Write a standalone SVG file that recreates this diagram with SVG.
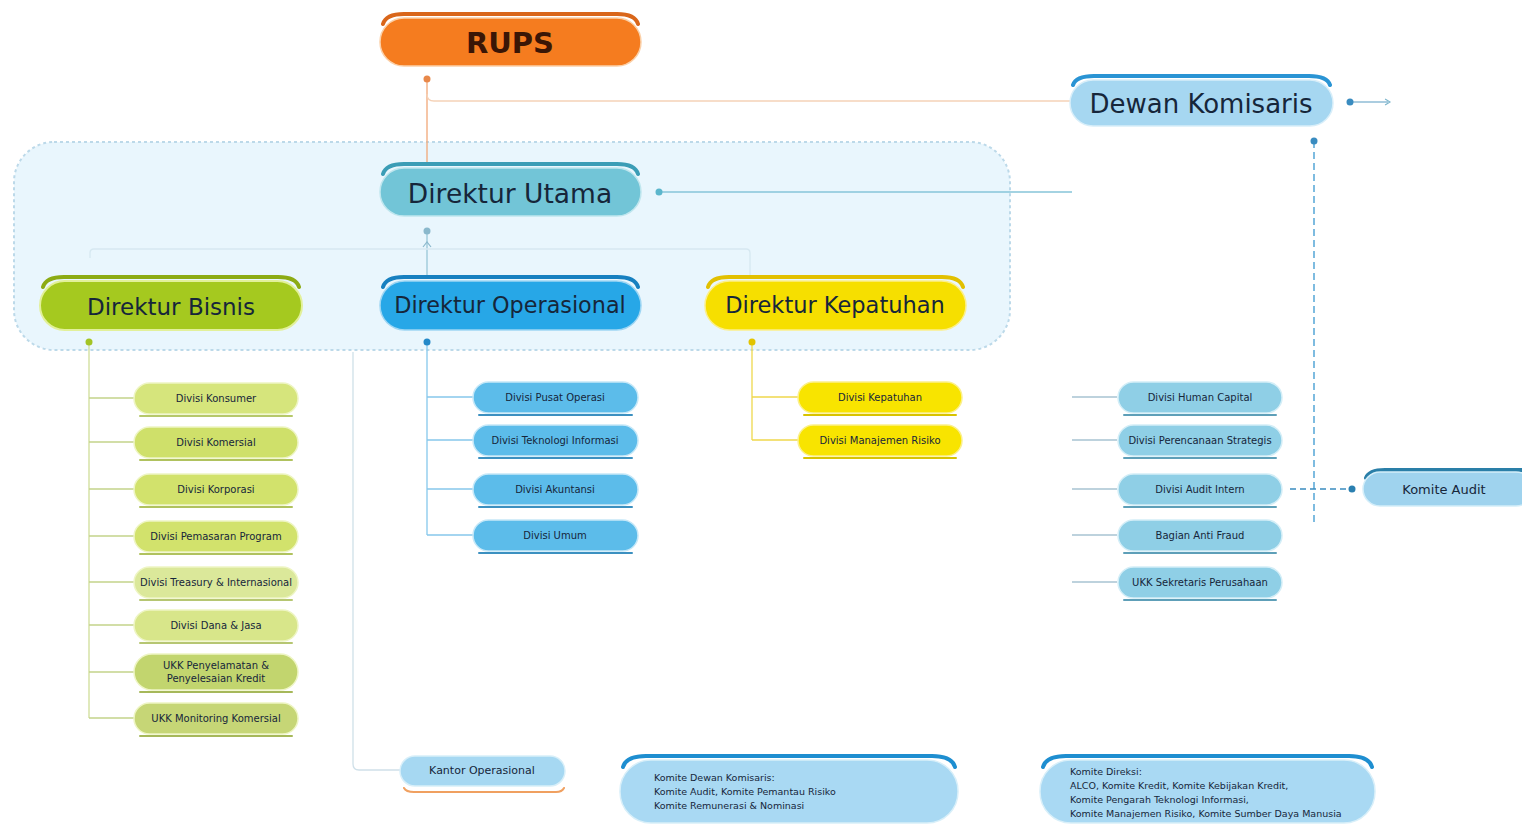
<svg xmlns="http://www.w3.org/2000/svg" width="1522" height="826" viewBox="0 0 1522 826">
<defs>
<style>
.t{font-family:"DejaVu Sans","Liberation Sans",sans-serif;fill:#16263a;text-anchor:middle;dominant-baseline:central}
.big{font-size:23px}
.sm{font-size:10px}
.xs{font-size:9.5px;text-anchor:start}
.cap{fill:none;stroke-width:4;stroke-linecap:round}
.ln{fill:none;stroke-width:1.3}
.shadow{fill:none;stroke-width:2;stroke-linecap:round}
</style>
<marker id="ah" viewBox="0 0 8 8" refX="4" refY="4" markerWidth="6" markerHeight="6" orient="auto"><path d="M1 1 L6 4 L1 7" fill="none" stroke="#7fb6cc" stroke-width="1.2"/></marker>
</defs>
<rect width="1522" height="826" fill="#ffffff"/>

<g id="group-direksi">
<rect x="14" y="142" width="996" height="208" rx="40" fill="#e9f6fd" stroke="#bcd9e9" stroke-width="2" stroke-dasharray="3 3"/>
</g>

<g id="connectors">
<line class="ln" x1="427" y1="79" x2="427" y2="166" stroke="#f2a878"/>
<path class="ln" d="M427 94 Q427 101 434 101 H1070" stroke="#f5d2b8"/>
<circle cx="427" cy="79" r="3.5" fill="#e8884a"/>
<path class="ln" d="M659 192 H1072" stroke="#86c5d8"/>
<circle cx="659" cy="192" r="3.5" fill="#5bb6cc"/>
<line class="ln" x1="427" y1="231" x2="427" y2="277" stroke="#98c6d8"/>
<circle cx="427" cy="231" r="3.5" fill="#8ab8cc"/>
<path d="M423 247 L427 242 L431 247" fill="none" stroke="#8ab8cc" stroke-width="1.2"/>
<path class="ln" d="M90 258 V253 Q90 249 94 249 H746 Q750 249 750 253 V277" stroke="#d6e8f1"/>
<path class="ln" d="M89 342 V718" stroke="#cfdd98"/>
<circle cx="89" cy="342" r="3.5" fill="#a3c425"/>
<path class="ln" stroke="#c4d48a" d="M89 398 H134 M89 442 H134 M89 489 H134 M89 536 H134 M89 582 H134 M89 625 H134 M89 672 H134 M89 718 H134"/>
<path class="ln" d="M427 342 V535" stroke="#86c8ec"/>
<circle cx="427" cy="342" r="3.5" fill="#2388c8"/>
<path class="ln" stroke="#86c8ec" d="M427 397 H473 M427 440 H473 M427 489 H473 M427 535 H473"/>
<path class="ln" d="M752 342 V440" stroke="#efd84c"/>
<circle cx="752" cy="342" r="3.5" fill="#e2c400"/>
<path class="ln" stroke="#efd84c" d="M752 397 H798 M752 440 H798"/>
<path class="ln" d="M353 352 V764 Q353 770 359 770 H400" stroke="#cfe0e9"/>
<path class="ln" d="M1350 102 H1388" stroke="#8fbcd6" marker-end="url(#ah)"/>
<circle cx="1350" cy="102" r="3.5" fill="#3a8cc0"/>
<path class="ln" d="M1314 141 V522" stroke="#3a98d0" stroke-dasharray="7 4"/>
<circle cx="1314" cy="141" r="3.5" fill="#3a8cc0"/>
<path class="ln" stroke="#a8c4d2" d="M1072 397 H1117 M1072 440 H1117 M1072 489 H1117 M1072 535 H1117 M1072 582 H1117"/>
<path class="ln" d="M1290 489 H1350" stroke="#3a8cc0" stroke-dasharray="6 4"/>
<circle cx="1352" cy="489" r="3.5" fill="#2a7fb0"/>
</g>

<g id="node-rups">
<path class="cap" d="M383 24 Q386 14 404 14 H617 Q635 14 638 24" stroke="#d9661a"/>
<rect x="380" y="18" width="261" height="48" rx="24" fill="#f57c1f" stroke="#fbd0a8" stroke-width="1.5"/>
<text class="t" x="510" y="43" font-size="29" font-weight="bold" style="fill:#3a1606">RUPS</text>
</g>

<g id="node-dewan-komisaris">
<path class="cap" d="M1073 85 Q1076 76 1094 76 H1309 Q1327 76 1330 85" stroke="#2a94d4"/>
<rect x="1070" y="80" width="263" height="46" rx="23" fill="#a6d7f1" stroke="#d8eef9" stroke-width="1.5"/>
<text class="t" x="1201" y="104" font-size="26">Dewan Komisaris</text>
</g>

<g id="node-direktur-utama">
<path class="cap" d="M383 174 Q386 164 404 164 H617 Q635 164 638 174" stroke="#3b9db6"/>
<rect x="380" y="168" width="261" height="48" rx="24" fill="#72c5d7" stroke="#bfe6ee" stroke-width="1.5"/>
<text class="t" x="510" y="193" font-size="26.5">Direktur Utama</text>
</g>

<g id="node-direktur-bisnis">
<path class="cap" d="M43 287 Q46 277 64 277 H278 Q296 277 299 287" stroke="#8cab14"/>
<rect x="40" y="281" width="262" height="49" rx="24.5" fill="#a5c91f" stroke="#e2f09a" stroke-width="2"/>
<text class="t big" x="171" y="307">Direktur Bisnis</text>
</g>

<g id="node-direktur-operasional">
<path class="cap" d="M383 287 Q386 277 404 277 H617 Q635 277 638 287" stroke="#1780c0"/>
<rect x="380" y="281" width="261" height="49" rx="24.5" fill="#27a7e7" stroke="#9fd6f3" stroke-width="1.5"/>
<text class="t" x="510" y="305" font-size="22.3">Direktur Operasional</text>
</g>

<g id="node-direktur-kepatuhan">
<path class="cap" d="M708 287 Q711 277 729 277 H942 Q960 277 963 287" stroke="#e2c000"/>
<rect x="705" y="281" width="261" height="49" rx="24.5" fill="#f6df00" stroke="#fbef8a" stroke-width="1.5"/>
<text class="t" x="835" y="305" font-size="22.5">Direktur Kepatuhan</text>
</g>

<g id="node-divisi-konsumer">
<rect x="134" y="383" width="164" height="31" rx="15.5" fill="#d6e57c" stroke="#eef5c4" stroke-width="1.5"/>
<path class="shadow" d="M140 416 H292" stroke="#b6c86a"/>
<text class="t sm" x="216" y="398">Divisi Konsumer</text>
</g>
<g id="node-divisi-komersial">
<rect x="134" y="427" width="164" height="31" rx="15.5" fill="#cfe06a" stroke="#eef5c4" stroke-width="1.5"/>
<path class="shadow" d="M140 460 H292" stroke="#b0c25e"/>
<text class="t sm" x="216" y="442">Divisi Komersial</text>
</g>
<g id="node-divisi-korporasi">
<rect x="134" y="474" width="164" height="31" rx="15.5" fill="#d2e26c" stroke="#eef5c4" stroke-width="1.5"/>
<path class="shadow" d="M140 507 H292" stroke="#b0c25e"/>
<text class="t sm" x="216" y="489">Divisi Korporasi</text>
</g>
<g id="node-divisi-pemasaran-program">
<rect x="134" y="521" width="164" height="31" rx="15.5" fill="#d2e26c" stroke="#eef5c4" stroke-width="1.5"/>
<path class="shadow" d="M140 554 H292" stroke="#b0c25e"/>
<text class="t sm" x="216" y="536">Divisi Pemasaran Program</text>
</g>
<g id="node-divisi-treasury">
<rect x="134" y="567" width="164" height="31" rx="15.5" fill="#dbe89a" stroke="#eef5c4" stroke-width="1.5"/>
<path class="shadow" d="M140 600 H292" stroke="#b6c672"/>
<text class="t sm" x="216" y="582">Divisi Treasury &amp; Internasional</text>
</g>
<g id="node-divisi-dana-jasa">
<rect x="134" y="610" width="164" height="31" rx="15.5" fill="#d8e68a" stroke="#eef5c4" stroke-width="1.5"/>
<path class="shadow" d="M140 643 H292" stroke="#b6c672"/>
<text class="t sm" x="216" y="625">Divisi Dana &amp; Jasa</text>
</g>
<g id="node-ukk-penyelamatan">
<rect x="134" y="654" width="164" height="36" rx="18" fill="#c2d56e" stroke="#eef5c4" stroke-width="1.5"/>
<path class="shadow" d="M140 692 H292" stroke="#a6b85a"/>
<text class="t sm" x="216" y="665">UKK Penyelamatan &amp;</text>
<text class="t sm" x="216" y="678">Penyelesaian Kredit</text>
</g>
<g id="node-ukk-monitoring">
<rect x="134" y="703" width="164" height="31" rx="15.5" fill="#c6d676" stroke="#eef5c4" stroke-width="1.5"/>
<path class="shadow" d="M140 736 H292" stroke="#a6b85a"/>
<text class="t sm" x="216" y="718">UKK Monitoring Komersial</text>
</g>

<g id="node-divisi-pusat-operasi">
<rect x="473" y="382" width="165" height="31" rx="15.5" fill="#5cbcea" stroke="#c6e8f8" stroke-width="1.5"/>
<path class="shadow" d="M479 415 H632" stroke="#3c90c0"/>
<text class="t sm" x="555" y="397">Divisi Pusat Operasi</text>
</g>
<g id="node-divisi-ti">
<rect x="473" y="425" width="165" height="31" rx="15.5" fill="#5cbcea" stroke="#c6e8f8" stroke-width="1.5"/>
<path class="shadow" d="M479 458 H632" stroke="#3c90c0"/>
<text class="t sm" x="555" y="440">Divisi Teknologi Informasi</text>
</g>
<g id="node-divisi-akuntansi">
<rect x="473" y="474" width="165" height="31" rx="15.5" fill="#5cbcea" stroke="#c6e8f8" stroke-width="1.5"/>
<path class="shadow" d="M479 507 H632" stroke="#3c90c0"/>
<text class="t sm" x="555" y="489">Divisi Akuntansi</text>
</g>
<g id="node-divisi-umum">
<rect x="473" y="520" width="165" height="31" rx="15.5" fill="#5cbcea" stroke="#c6e8f8" stroke-width="1.5"/>
<path class="shadow" d="M479 553 H632" stroke="#3c90c0"/>
<text class="t sm" x="555" y="535">Divisi Umum</text>
</g>

<g id="node-divisi-kepatuhan">
<rect x="798" y="382" width="164" height="31" rx="15.5" fill="#f8e400" stroke="#fbf08c" stroke-width="1.5"/>
<path class="shadow" d="M804 415 H956" stroke="#d8c300"/>
<text class="t sm" x="880" y="397">Divisi Kepatuhan</text>
</g>
<g id="node-divisi-manajemen-risiko">
<rect x="798" y="425" width="164" height="31" rx="15.5" fill="#f8e400" stroke="#fbf08c" stroke-width="1.5"/>
<path class="shadow" d="M804 458 H956" stroke="#d8c300"/>
<text class="t sm" x="880" y="440">Divisi Manajemen Risiko</text>
</g>

<g id="node-divisi-human-capital">
<rect x="1118" y="382" width="164" height="31" rx="15.5" fill="#8fcfe6" stroke="#d4eef7" stroke-width="1.5"/>
<path class="shadow" d="M1124 415 H1276" stroke="#5e9fb8"/>
<text class="t sm" x="1200" y="397">Divisi Human Capital</text>
</g>
<g id="node-divisi-perencanaan">
<rect x="1118" y="425" width="164" height="31" rx="15.5" fill="#8fcfe6" stroke="#d4eef7" stroke-width="1.5"/>
<path class="shadow" d="M1124 458 H1276" stroke="#5e9fb8"/>
<text class="t sm" x="1200" y="440">Divisi Perencanaan Strategis</text>
</g>
<g id="node-divisi-audit-intern">
<rect x="1118" y="474" width="164" height="31" rx="15.5" fill="#8fcfe6" stroke="#d4eef7" stroke-width="1.5"/>
<path class="shadow" d="M1124 507 H1276" stroke="#5e9fb8"/>
<text class="t sm" x="1200" y="489">Divisi Audit Intern</text>
</g>
<g id="node-bagian-anti-fraud">
<rect x="1118" y="520" width="164" height="31" rx="15.5" fill="#8fcfe6" stroke="#d4eef7" stroke-width="1.5"/>
<path class="shadow" d="M1124 553 H1276" stroke="#5e9fb8"/>
<text class="t sm" x="1200" y="535">Bagian Anti Fraud</text>
</g>
<g id="node-ukk-sekretaris">
<rect x="1118" y="567" width="164" height="31" rx="15.5" fill="#8fcfe6" stroke="#d4eef7" stroke-width="1.5"/>
<path class="shadow" d="M1124 600 H1276" stroke="#5e9fb8"/>
<text class="t sm" x="1200" y="582">UKK Sekretaris Perusahaan</text>
</g>

<g id="node-komite-audit">
<path class="cap" d="M1366 478 Q1369 470 1385 470 H1522" stroke="#2a7fa8"/>
<rect x="1363" y="472" width="170" height="34" rx="17" fill="#9fd3ee" stroke="#d4eef9" stroke-width="1.5"/>
<text class="t" x="1444" y="489" font-size="13">Komite Audit</text>
</g>

<g id="node-kantor-operasional">
<rect x="400" y="756" width="165" height="30" rx="15" fill="#a6d8f2" stroke="#d8eff9" stroke-width="1.5"/>
<path class="shadow" d="M404 788 Q406 792 414 792 H556 Q562 792 564 788" stroke="#f0a060"/>
<text class="t" x="482" y="770" font-size="11">Kantor Operasional</text>
</g>

<g id="node-komite-dewan-komisaris">
<path class="cap" d="M623 767 Q626 756 646 756 H932 Q952 756 955 767" stroke="#1e8ed0"/>
<rect x="620" y="760" width="338" height="63" rx="31" fill="#a9d9f3" stroke="#d8eff9" stroke-width="1.5"/>
<text class="t xs" x="654" y="777">Komite Dewan Komisaris:</text>
<text class="t xs" x="654" y="791">Komite Audit, Komite Pemantau Risiko</text>
<text class="t xs" x="654" y="805">Komite Remunerasi &amp; Nominasi</text>
</g>

<g id="node-komite-direksi">
<path class="cap" d="M1043 767 Q1046 756 1066 756 H1349 Q1369 756 1372 767" stroke="#1e8ed0"/>
<rect x="1040" y="760" width="335" height="63" rx="31" fill="#a9d9f3" stroke="#d8eff9" stroke-width="1.5"/>
<text class="t xs" x="1070" y="771">Komite Direksi:</text>
<text class="t xs" x="1070" y="785">ALCO, Komite Kredit, Komite Kebijakan Kredit,</text>
<text class="t xs" x="1070" y="799">Komite Pengarah Teknologi Informasi,</text>
<text class="t xs" x="1070" y="813">Komite Manajemen Risiko, Komite Sumber Daya Manusia</text>
</g>
</svg>
